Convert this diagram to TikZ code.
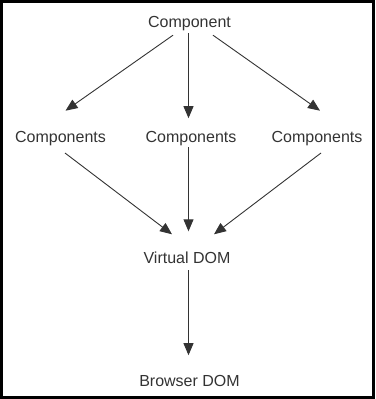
\documentclass[tikz,border=0pt]{standalone}
\usepackage{fontspec}
\setmainfont{Liberation Sans}
\usetikzlibrary{arrows.meta,calc}
\definecolor{ink}{HTML}{333333}
\tikzset{
  lbl/.style={anchor=base, inner sep=0pt, text=ink, font=\fontsize{16}{19}\selectfont},
  arr/.style={draw=ink, line width=0.9pt, -{Triangle[length=12pt,width=10pt]}},
}
\begin{document}
\begin{tikzpicture}[x=1pt,y=-1pt]
  \useasboundingbox (0,0) rectangle (375,399);
  % outer frame
  \draw[line width=2.8pt] (1.4,1.4) rectangle (373.6,397.6);

  % labels, placed by their baselines
  \node[lbl] (top)  at (189.5,27.7)  {Component};
  \node[lbl] (c1)   at (60.5,142.7)  {Components};
  \node[lbl] (c2)   at (191,142.7)   {Components};
  \node[lbl] (c3)   at (317,142.7)   {Components};
  \node[lbl] (vdom) at (187,263.3)   {Virtual DOM};
  \node[lbl] (bdom) at (189.5,386.7) {Browser DOM};

  % component fans out into child components
  \draw[arr] ($(top.base)+(-16.5,7.5)$) -- ($(c1.base)+(5,-32)$);
  \draw[arr] ($(top.base)+(-1,5.5)$)    -- ($(c2.base)+(-2.5,-24.5)$);
  \draw[arr] ($(top.base)+(23.5,7.5)$)  -- ($(c3.base)+(3,-32)$);

  % child components feed the virtual DOM
  \draw[arr] ($(c1.base)+(4.5,10.3)$)   -- ($(vdom.base)+(-15,-29)$);
  \draw[arr] ($(c2.base)+(-2.5,4.3)$)   -- ($(vdom.base)+(1.5,-32)$);
  \draw[arr] ($(c3.base)+(4,10.3)$)     -- ($(vdom.base)+(27,-29)$);

  % virtual DOM updates the browser DOM
  \draw[arr] ($(vdom.base)+(1.5,6.7)$)  -- ($(bdom.base)+(-1,-31.5)$);
\end{tikzpicture}
\end{document}
